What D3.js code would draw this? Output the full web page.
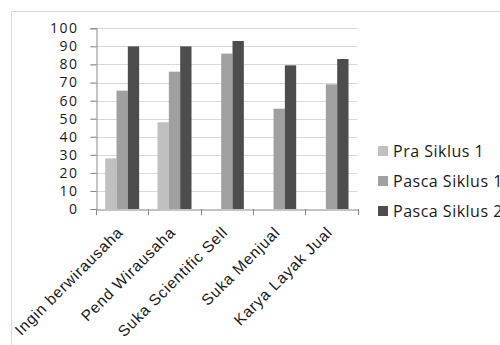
<!DOCTYPE html>
<html>
<head>
<meta charset="utf-8">
<script src="https://cdn.jsdelivr.net/npm/d3@7"></script>
<style>
  html, body { margin: 0; padding: 0; background: #fff; }
  svg { display: block; font-family: "Open Sans", "Liberation Sans", sans-serif; }
</style>
</head>
<body>
<svg id="chart" width="500" height="345"></svg>
<script>
// Categories and series values
const categories = ["Ingin berwirausaha", "Pend Wirausaha", "Suka Scientific Sell", "Suka Menjual", "Karya Layak Jual"];
const seriesNames = ["Pra Siklus 1", "Pasca Siklus 1", "Pasca Siklus 2"];
const praSiklus1 = [28, 48, 0, 0, 0];
const pascaSiklus1 = [65.5, 76, 86, 55.5, 69];
const pascaSiklus2 = [90, 90, 93, 79.5, 83];
const yTicks = [0, 10, 20, 30, 40, 50, 60, 70, 80, 90, 100];

const seriesValues = [praSiklus1, pascaSiklus1, pascaSiklus2];
const colors = ["#c0c0c0", "#a0a0a0", "#4d4d4d"];

const svg = d3.select("#chart");

// outer frame
svg.append("path")
  .attr("d", "M11.5,345 V11.5 H500")
  .attr("fill", "none")
  .attr("stroke", "#d9d9d9")
  .attr("stroke-width", 1);

const plot = { left: 96, right: 357.7, top: 28.3, bottom: 209 };

const x = d3.scaleBand().domain(categories).range([plot.left, plot.right]).padding(0);
const xs = d3.scaleBand().domain(seriesNames).range([0, x.bandwidth()]).paddingInner(0).paddingOuter(0.81);
const y = d3.scaleLinear().domain([0, 100]).range([plot.bottom, plot.top]);

// horizontal gridlines
svg.append("g")
  .selectAll("line")
  .data(yTicks.filter(d => d > 0))
  .join("line")
  .attr("x1", plot.left - 6)
  .attr("x2", plot.right)
  .attr("y1", d => Math.round(y(d)) + 0.5)
  .attr("y2", d => Math.round(y(d)) + 0.5)
  .attr("stroke", "#d9d9d9");

// y axis
const yAxis = svg.append("g")
  .attr("transform", `translate(${Math.round(plot.left) + 0.5},0)`)
  .call(d3.axisLeft(y).tickValues(yTicks).tickSize(6).tickPadding(12).tickFormat(d3.format("d")));
yAxis.select(".domain").attr("stroke", "#888");
yAxis.selectAll(".tick line").attr("stroke", "#888");
yAxis.selectAll(".tick text").attr("font-size", 14).attr("fill", "#1a1a1a")
  .attr("letter-spacing", 1.5)
  .attr("font-family", "'Open Sans', sans-serif");

// bars
const groups = svg.append("g")
  .selectAll("g")
  .data(categories)
  .join("g")
  .attr("transform", d => `translate(${x(d)},0)`);

groups.selectAll("rect")
  .data((c, i) => seriesNames.map((s, j) => ({ s, j, v: seriesValues[j][i] })))
  .join("rect")
  .attr("x", d => xs(d.s))
  .attr("width", xs.bandwidth())
  .attr("y", d => y(d.v))
  .attr("height", d => y(0) - y(d.v))
  .attr("fill", d => colors[d.j]);

// x axis
const xAxis = svg.append("g")
  .attr("transform", `translate(0,${Math.round(plot.bottom) + 0.5})`)
  .call(d3.axisBottom(x).tickSize(0).tickSizeOuter(0).tickPadding(0));
xAxis.select(".domain").attr("stroke", "#888");
xAxis.selectAll(".tick text")
  .attr("font-size", 15.5)
  .attr("letter-spacing", 0.8)
  .attr("fill", "#1a1a1a")
  .attr("text-anchor", "end")
  .attr("dy", "0.35em")
  .attr("transform", "translate(-2,20) rotate(-45)");

// category boundary ticks
svg.append("g")
  .selectAll("line")
  .data(categories.map(c => x(c)).concat([plot.right]))
  .join("line")
  .attr("x1", d => Math.round(d) + 0.5)
  .attr("x2", d => Math.round(d) + 0.5)
  .attr("y1", Math.round(plot.bottom))
  .attr("y2", Math.round(plot.bottom) + 6)
  .attr("stroke", "#888");

// legend
const legend = svg.append("g")
  .selectAll("g")
  .data(seriesNames)
  .join("g")
  .attr("transform", (d, i) => `translate(378,${151 + i * 30})`);
legend.append("rect")
  .attr("x", 0).attr("y", -5).attr("width", 10).attr("height", 10)
  .attr("fill", (d, i) => colors[i]);
legend.append("text")
  .attr("x", 15).attr("y", 0).attr("dy", "0.35em")
  .attr("font-size", 16)
  .attr("letter-spacing", 0.5)
  .attr("fill", "#1a1a1a")
  .text(d => d);
</script>
</body>
</html>
